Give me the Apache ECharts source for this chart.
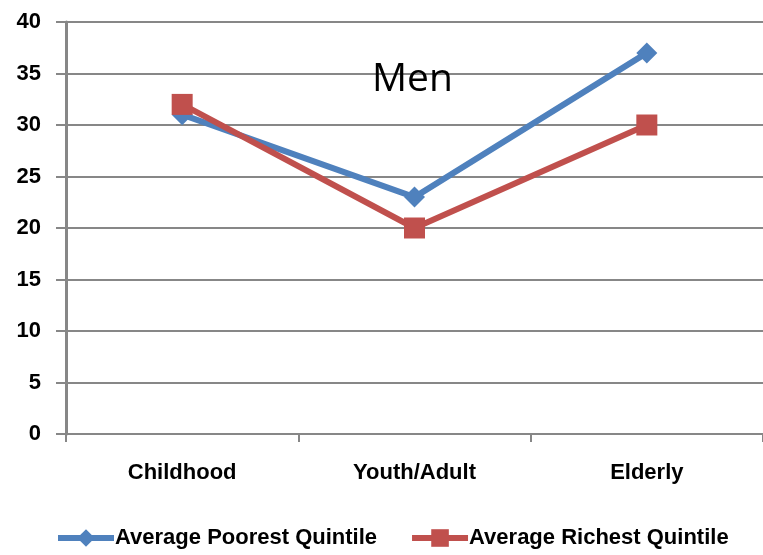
<!DOCTYPE html>
<html>
<head>
<meta charset="utf-8">
<script src="https://cdn.jsdelivr.net/npm/echarts@6/dist/echarts.min.js"></script>
<style>
  html, body { margin: 0; padding: 0; background: #fff; }
  #chart { width: 763px; height: 555px; }
</style>
</head>
<body>
<div id="chart"></div>
<script>
// Life stages on the category axis
const categories = ['Childhood', 'Youth/Adult', 'Elderly'];
// Series values per life stage
const poorest = [31, 23, 37];
const richest = [32, 20, 30];
// Value axis ticks
const yTicks = [0, 5, 10, 15, 20, 25, 30, 35, 40];

const seriesNames = ['Average Poorest Quintile', 'Average Richest Quintile'];
const BLUE = '#4f81bd';
const RED = '#c0504d';
const GRID = '#878787';
const FONT = '"Liberation Sans", Arial, sans-serif';

const chart = echarts.init(document.getElementById('chart'), null, { renderer: 'canvas' });

chart.setOption({
  animation: false,
  backgroundColor: '#ffffff',
  title: {
    text: 'Men',
    left: 367,
    top: 55,
    textStyle: { fontFamily: '"Open Sans", sans-serif', fontSize: 39, fontWeight: 'normal', color: '#000' }
  },
  grid: { left: 66, top: 22, right: -4, height: 412, containLabel: false },
  legend: {
    bottom: 1,
    left: 50,
    itemGap: 32,
    itemWidth: 56,
    itemHeight: 22,
    lineStyle: { width: 6 },
    textStyle: { fontFamily: FONT, fontSize: 22, fontWeight: 'bold', color: '#000', padding: [0, 0, 0, -4] },
    data: seriesNames
  },
  xAxis: {
    type: 'category',
    data: categories,
    boundaryGap: true,
    axisLine: { lineStyle: { color: GRID, width: 2 } },
    axisTick: { show: true, length: 8, lineStyle: { color: GRID, width: 2 } },
    axisLabel: { margin: 28, fontFamily: FONT, fontSize: 22, fontWeight: 'bold', color: '#000' },
    splitLine: { show: false }
  },
  yAxis: {
    type: 'value',
    min: yTicks[0],
    max: yTicks[yTicks.length - 1],
    interval: 5,
    axisLine: { show: true, lineStyle: { color: GRID, width: 3 } },
    axisTick: { show: true, length: 10, lineStyle: { color: GRID, width: 2 } },
    axisLabel: { margin: 25, fontFamily: FONT, fontSize: 22, fontWeight: 'bold', color: '#000' },
    splitLine: { show: true, lineStyle: { color: GRID, width: 2 } }
  },
  series: [
    {
      name: seriesNames[0],
      type: 'line',
      data: poorest,
      symbol: 'diamond',
      symbolSize: 21,
      itemStyle: { color: BLUE },
      lineStyle: { color: BLUE, width: 6 },
      z: 3
    },
    {
      name: seriesNames[1],
      type: 'line',
      data: richest,
      symbol: 'rect',
      symbolSize: 21,
      itemStyle: { color: RED },
      lineStyle: { color: RED, width: 6 },
      z: 4
    }
  ]
});
</script>
</body>
</html>
